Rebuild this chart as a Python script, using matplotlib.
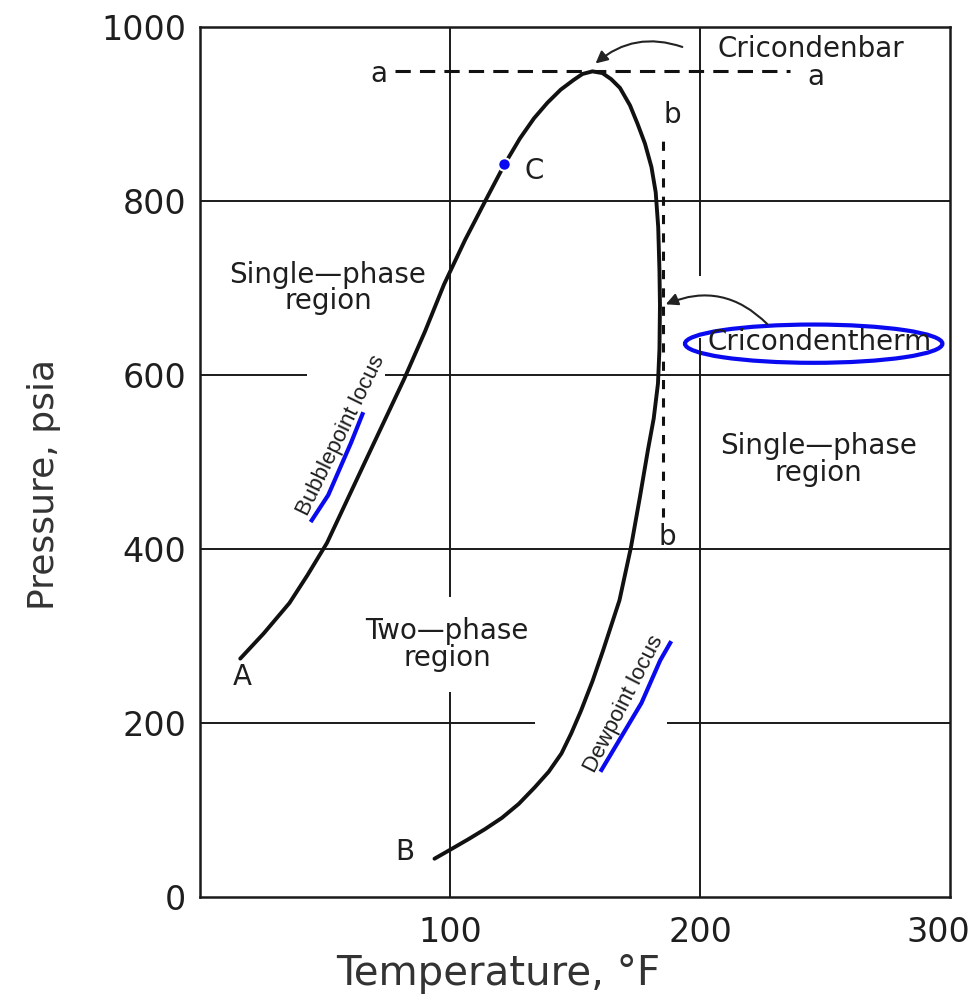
import matplotlib
matplotlib.use("Agg")
import matplotlib.pyplot as plt
import matplotlib.transforms as mtransforms
from matplotlib.patches import Ellipse

# phase envelope (temperature F, pressure psia)
bubble_T = [16.1, 25.5, 35.8, 43.0, 50.8, 66.0, 81.6, 90.0, 97.6, 106.0, 115.2,
            121.8, 128.0, 133.6, 139.0, 144.3, 149.4, 153.0, 157.0]
bubble_P = [274, 303, 338, 370, 407, 500, 595, 650, 704, 755, 806,
            842, 872, 895, 913, 928, 939, 946, 949]
dew_T = [157.0, 161.0, 164.5, 168.0, 172.0, 175.0, 178.0, 180.6, 182.3, 183.3,
         183.8, 184.0, 183.8, 183.2, 181.5, 179.2, 176.0, 172.4, 167.8, 161.2,
         157.0, 152.4, 148.5, 144.6, 139.5, 133.9, 127.5, 120.8, 114.0, 107.7,
         100.5, 93.8]
dew_P = [949, 947, 940, 930, 910, 889, 866, 839, 810, 770,
         720, 680, 630, 590, 550, 514, 460, 402, 341, 283,
         248, 214, 188, 165, 144, 126, 107, 91, 78, 67,
         55, 44]

point_C = (121.8, 842)
cricondenbar_P = 950
cricondentherm_T = 185.3

x_ticks = [100, 200, 300]
y_ticks = [0, 200, 400, 600, 800, 1000]

# broken grid lines as in the drawing
grid_h = [(800, 0, 300), (400, 0, 300), (600, 0, 43), (600, 74, 300),
          (200, 0, 134), (200, 187, 300)]
grid_v = [(100, 345, 1000), (100, 0, 236), (200, 0, 642), (200, 714, 1000)]

fig = plt.figure(figsize=(9.79, 10), dpi=100)
ax = fig.add_axes([0.2043, 0.103, 0.766, 0.870])

for y, x0, x1 in grid_h:
    ax.plot([x0, x1], [y, y], color="#1a1a1a", lw=1.4, solid_capstyle="butt")
for x, y0, y1 in grid_v:
    ax.plot([x, x], [y0, y1], color="#1a1a1a", lw=1.4, solid_capstyle="butt")

ax.plot(bubble_T + dew_T, bubble_P + dew_P, color="#111111", lw=2.8,
        solid_joinstyle="round", solid_capstyle="round")

# cricondenbar a--a and cricondentherm b--b
ax.plot([78, 236], [cricondenbar_P, cricondenbar_P], color="#111111", lw=2.2,
        ls=(0, (5, 3)))
ax.plot([cricondentherm_T, cricondentherm_T], [437, 870], color="#111111", lw=2.2,
        ls=(0, (3, 3)))

tf = dict(color="#1e1e1e")
ax.text(75, 946, "a", fontsize=20, ha="right", va="center", **tf)
ax.text(243, 943, "a", fontsize=20, ha="left", va="center", **tf)
ax.text(188.8, 899, "b", fontsize=20, ha="center", va="center", **tf)
ax.text(186.8, 414, "b", fontsize=20, ha="center", va="center", **tf)

ax.annotate("", xy=(157.4, 956), xytext=(194, 976),
            arrowprops=dict(arrowstyle="-|>", color="#222222", lw=1.5,
                            connectionstyle="arc3,rad=0.3", mutation_scale=18))
ax.annotate("", xy=(cricondentherm_T, 680), xytext=(227.8, 656),
            arrowprops=dict(arrowstyle="-|>", color="#222222", lw=1.5,
                            connectionstyle="arc3,rad=0.35", mutation_scale=18))

ax.text(244.5, 975, "Cricondenbar", fontsize=20, ha="center", va="center", **tf)
ax.text(247.9, 638, "Cricondentherm", fontsize=20, ha="center", va="center", **tf)
ax.text(51.2, 700, "Single\u2014phase\nregion", fontsize=20, ha="center", va="center",
        linespacing=0.95, **tf)
ax.text(247.5, 503, "Single\u2014phase\nregion", fontsize=20, ha="center", va="center",
        linespacing=0.95, **tf)
ax.text(98.8, 290, "Two\u2014phase\nregion", fontsize=20, ha="center", va="center",
        linespacing=0.95, **tf)
ax.text(56.3, 530, "Bubblepoint locus", fontsize=16, rotation=64, ha="center",
        va="center", family="Liberation Sans", **tf)
ax.text(169.5, 222, "Dewpoint locus", fontsize=16, rotation=63, ha="center",
        va="center", family="Liberation Sans", **tf)
ax.text(17, 253, "A", fontsize=20, ha="center", va="center", **tf)
ax.text(81.8, 52, "B", fontsize=20, ha="center", va="center", **tf)
ax.text(133.7, 834, "C", fontsize=20, ha="center", va="center", **tf)

# blue pen marks on the scan
blue = "#0a0af0"
ax.plot([point_C[0]], [point_C[1]], "o", ms=9, mfc=blue, mec="white", mew=1.5)
ax.plot([44.7, 51.3, 60.4, 65.0], [433, 462, 522, 555], color=blue, lw=3)
ax.plot([160.6, 176.6, 184.1, 188.1], [146, 223, 272, 292], color=blue, lw=3)
ax.add_patch(Ellipse((245.5, 636), 103, 44, fill=False, ec=blue, lw=3))

ax.set_xlim(0, 300)
ax.set_ylim(0, 1000)
ax.set_xticks(x_ticks)
ax.set_yticks(y_ticks)
ax.tick_params(length=0, labelsize=24, colors="#1e1e1e")
ax.tick_params(axis="x", pad=14)
ax.tick_params(axis="y", pad=10)
# "300" sits a little inside the right edge in the scan
last = ax.get_xticklabels()[-1]
last.set_transform(last.get_transform() +
                   mtransforms.ScaledTranslation(-0.12, 0, fig.dpi_scale_trans))
for s in ax.spines.values():
    s.set_linewidth(1.8)
    s.set_color("#1a1a1a")
ax.set_xlabel("Temperature, \u00b0F", fontsize=29, color="#333333")
ax.set_ylabel("Pressure, psia", fontsize=26, color="#333333")
ax.xaxis.set_label_coords(0.397, -0.066)
ax.yaxis.set_label_coords(-0.185, 0.474)

fig.savefig("out.png", dpi=100)
